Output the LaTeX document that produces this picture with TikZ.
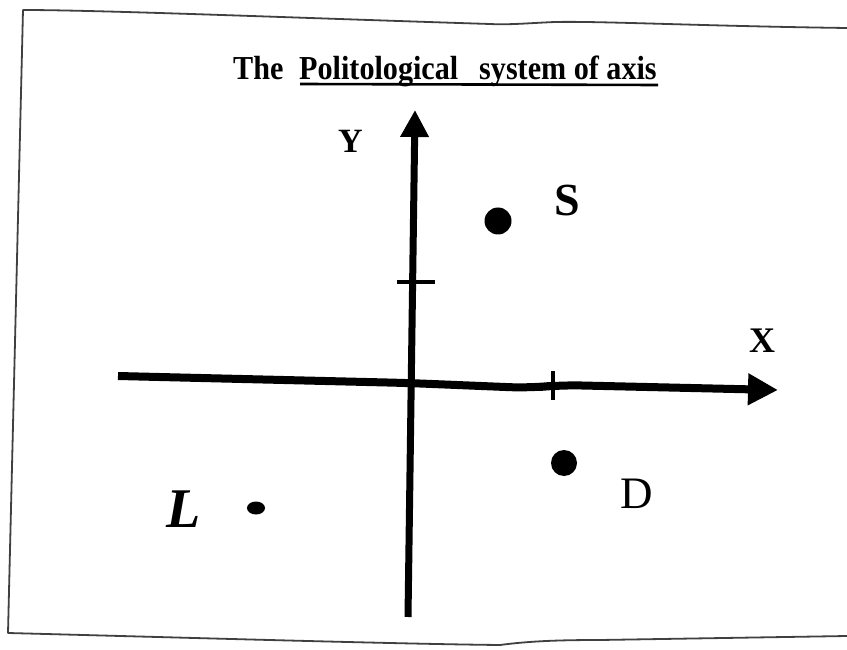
\documentclass[tikz,border=0pt]{standalone}
\usepackage{fontspec}
\setmainfont{Liberation Serif}
\newfontfamily\titlefont[FakeStretch=0.9]{Liberation Serif}
\usetikzlibrary{arrows.meta}
\begin{document}
\begin{tikzpicture}[x=1pt,y=-1pt,
  frame/.style={draw=black!75,line width=1.8pt,line join=round},
  axis/.style={line width=8pt,-{Triangle[length=30pt,width=30pt]}},
  tick/.style={line width=4.5pt},
  word/.style={anchor=base west,inner sep=0pt,font=\titlefont\fontsize{33.5}{34}\selectfont\bfseries},
  lbl/.style={anchor=base west,inner sep=0pt},
  dot/.style={fill=black}]
\useasboundingbox[fill=white] (0,0) rectangle (847,650);
% frame of the page
\draw[frame] (847,28) .. controls (700,26) and (600,21) .. (555,22)
  .. controls (530,23) and (510,25) .. (490,24)
  .. controls (300,18) and (100,10) .. (23,10) -- (8,633)
  .. controls (200,638) and (400,644) .. (500,645)
  .. controls (530,641) and (560,640) .. (600,640) -- (847,636);
% title
\node[word] (t1) at (233,80) {The};
\node[word] (t2) at (299,80) {Politological};
\node[word] (t3) at (479,80) {system of axis};
\coordinate (ul1) at (300,84);
\coordinate (ul2) at (658,85);
\draw[line width=2.6pt] (ul1) -- (ul2);
% axes
\coordinate (yb) at (408,617);
\coordinate (yt) at (415,110);
\coordinate (xl) at (118,376);
\coordinate (xo) at (408,383);
\coordinate (xw) at (530,388);
\coordinate (xr) at (778,390);
\draw[line width=7pt,-{Triangle[length=27pt,width=27pt]}] (yb) -- (yt);
\draw[axis,rounded corners=20pt] (xl) -- (xo) -- (xw) -- (560,385) -- (xr);
% ticks
\coordinate (ty1) at (397,282);
\coordinate (ty2) at (435,282);
\draw[tick] (ty1) -- (ty2);
\coordinate (tx1) at (553,371);
\coordinate (tx2) at (553,400);
\draw[line width=3.5pt] (tx1) -- (tx2);
% axis labels
\node[lbl,font=\fontsize{34}{34}\selectfont\bfseries] (ylab) at (338,153) {Y};
\node[lbl,font=\fontsize{36}{36}\selectfont\bfseries] (xlab) at (749,352) {X};
% points
\fill[dot] (498,221) circle (13.5);
\node[lbl,font=\fontsize{46}{46}\selectfont\bfseries] (slab) at (554,216) {S};
\fill[dot] (564,463) circle (13);
\node[lbl,font=\fontsize{45}{45}\selectfont] (dlab) at (620,508) {D};
\fill[dot] (256,508) ellipse (9 and 6.5);
\node[lbl,font=\fontsize{56}{56}\selectfont\bfseries\itshape] (llab) at (166,527) {L};
\end{tikzpicture}
\end{document}
